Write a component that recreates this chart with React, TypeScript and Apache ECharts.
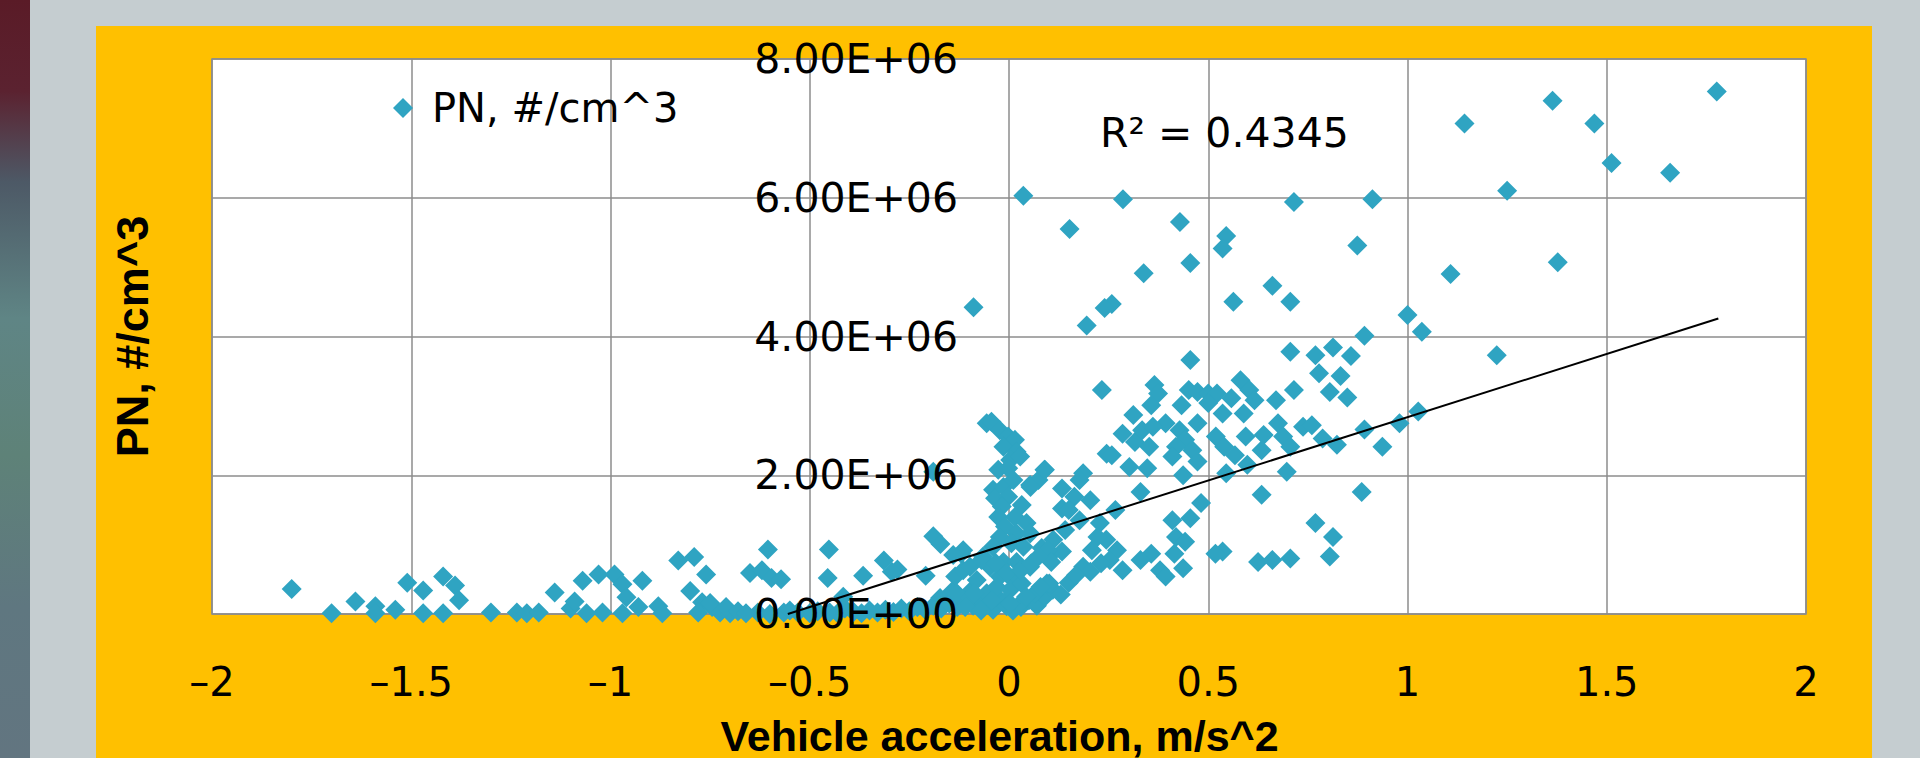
import React, { useEffect, useRef } from "react";
import * as echarts from "echarts";

const SERIES_NAME = "PN, #/cm^3";
const X_TITLE = "Vehicle acceleration, m/s^2";
const Y_TITLE = "PN, #/cm^3";
const R2_LABEL = "R² = 0.4345";

const X_MIN = -2;
const X_MAX = 2;
const X_STEP = 0.5;
const Y_MIN = 0;
const Y_MAX = 8e6;
const Y_STEP = 2e6;

// Trendline end points
const TREND_X = [-0.555, 1.78];
const TREND_Y = [0, 4.26e6];

// Left tail (decelerations)
const ACC_LEFT = [-1.8, -1.7, -1.64, -1.59, -1.59, -1.54, -1.51, -1.47, -1.47, -1.42, -1.39, -1.38, -1.42, -1.3, -1.235, -1.21, -1.18, -1.14, -1.1, -1.09, -1.07, -1.06, -1.03, -1.02, -0.99, -0.97, -0.97, -0.96, -0.93, -0.92, -0.88, -0.87, -0.83, -0.79, -0.8, -0.76, -0.77, -0.78, -0.745, -0.725, -0.7, -0.71, -0.75, -0.65, -0.62, -0.605, -0.596, -0.572, -0.63, -0.565, -0.53, -0.452, -0.455, -0.412, -0.366, -0.314, -0.28, -0.294, -0.19, -0.172, -0.19, -0.209, -0.135, -0.089, -0.12, -0.115, -0.144, -0.098, -0.173, -0.416, -0.056];
const PN_LEFT = [0.36e6, 0.01e6, 0.18e6, 0.11e6, 0.01e6, 0.06e6, 0.45e6, 0.34e6, 0.01e6, 0.54e6, 0.41e6, 0.2e6, 0.01e6, 0.02e6, 0.02e6, 0.01e6, 0.02e6, 0.31e6, 0.08e6, 0.18e6, 0.48e6, 0.01e6, 0.57e6, 0.02e6, 0.57e6, 0.43e6, 0.01e6, 0.24e6, 0.1e6, 0.48e6, 0.11e6, 0.01e6, 0.77e6, 0.82e6, 0.33e6, 0.57e6, 0.17e6, 0.02e6, 0.1e6, 0.02e6, 0.01e6, 0.1e6, 0.16e6, 0.59e6, 0.63e6, 0.93e6, 0.52e6, 0.5e6, 0.02e6, 0.02e6, 0.02e6, 0.93e6, 0.52e6, 0.08e6, 0.55e6, 0.77e6, 0.64e6, 0.61e6, 1.12e6, 1.01e6, 2.05e6, 0.55e6, 0.54e6, 4.42e6, 0.87e6, 0.63e6, 0.32e6, 0.32e6, 0.23e6, 0.25e6, 2.75e6];

// Band of low values near zero acceleration
const ACC_BAND = [-0.68, -0.66, -0.6, -0.55, -0.5, -0.48, -0.45, -0.43, -0.39, -0.37, -0.35, -0.33, -0.31, -0.29, -0.27, -0.25, -0.23, -0.21, -0.19, -0.17, -0.15, -0.13, -0.11, -0.09, -0.07, -0.05, -0.03, -0.01, 0.01, 0.03, 0.05, 0.07, 0.09, 0.11, 0.13, 0.15];
const PN_BAND = [0.04e6, 0.01e6, 0.0, 0.05e6, 0.01e6, 0.04e6, 0.02e6, 0.01e6, 0.03e6, 0.01e6, 0.05e6, 0.02e6, 0.06e6, 0.03e6, 0.08e6, 0.04e6, 0.1e6, 0.06e6, 0.12e6, 0.08e6, 0.15e6, 0.1e6, 0.18e6, 0.12e6, 0.2e6, 0.15e6, 0.25e6, 0.18e6, 0.05e6, 0.1e6, 0.2e6, 0.12e6, 0.25e6, 0.35e6, 0.28e6, 0.45e6];

// Vertical cluster around zero acceleration
const ACC_CENTER = [-0.044, -0.023, -0.002, 0.015, -0.014, 0.019, 0.003, 0.028, -0.027, -0.002, 0.09, 0.053, -0.04, -0.014, 0.011, -0.035, -0.002, 0.032, -0.018, -0.027, 0.015, 0.044, -0.01, 0.019, -0.023, 0.053, 0.006, 0.036, -0.115, -0.04, -0.065, -0.098, -0.14, -0.048, -0.014, 0.019, -0.023, 0.011, -0.081, -0.131, -0.098, -0.056, -0.031, 0.003, 0.032, -0.069, -0.04, -0.006, 0.028, 0.065, 0.095, 0.107, 0.082, 0.053, 0.245, 0.111, 0.074, 0.186, 0.228, -0.069, -0.033, -0.007, 0.029, 0.056, -0.087, -0.043, 0.003, -0.11, -0.07];
const PN_CENTER = [2.77e6, 2.65e6, 2.56e6, 2.51e6, 2.41e6, 2.34e6, 2.22e6, 2.27e6, 2.08e6, 2.1e6, 2.08e6, 1.86e6, 1.79e6, 1.83e6, 1.93e6, 1.67e6, 1.69e6, 1.57e6, 1.55e6, 1.4e6, 1.4e6, 1.31e6, 1.26e6, 1.16e6, 1.11e6, 1.16e6, 1.02e6, 0.97e6, 0.92e6, 0.97e6, 0.83e6, 0.68e6, 0.85e6, 0.68e6, 0.75e6, 0.75e6, 0.54e6, 0.49e6, 0.49e6, 0.3e6, 0.23e6, 0.3e6, 0.39e6, 0.35e6, 0.44e6, 0.08e6, 0.06e6, 0.11e6, 0.15e6, 0.3e6, 0.44e6, 0.87e6, 0.95e6, 0.68e6, 2.31e6, 1.07e6, 1.93e6, 0.68e6, 1.31e6, 0.78e6, 0.73e6, 0.59e6, 0.63e6, 0.73e6, 0.3e6, 0.2e6, 0.15e6, 0.1e6, 0.05e6];

// Accelerations (positive side)
const ACC_RIGHT = [0.036, 0.286, 0.715, 0.912, 1.25, 0.152, 0.429, 0.545, 0.536, 0.874, 0.455, 0.338, 1.108, 0.661, 0.563, 0.706, 0.258, 0.24, 0.195, 1.0, 1.036, 0.892, 1.224, 0.455, 0.706, 0.769, 0.813, 0.858, 0.778, 0.832, 0.805, 0.849, 0.715, 0.67, 0.233, 0.365, 0.374, 0.357, 0.581, 0.603, 0.616, 0.451, 0.473, 0.5, 0.522, 0.558, 0.433, 0.5, 0.536, 0.589, 0.312, 0.393, 0.285, 0.316, 0.334, 0.352, 0.361, 0.258, 0.302, 0.347, 0.428, 0.473, 0.442, 0.419, 0.41, 0.46, 0.473, 0.437, 0.519, 0.54, 0.567, 0.594, 0.639, 0.634, 0.598, 0.545, 0.675, 0.688, 0.706, 0.738, 0.76, 0.787, 0.823, 0.892, 0.937, 0.98, 1.027, 0.697, 0.634, 0.885, 0.769, 0.813, 0.805, 0.706, 0.661, 0.625, 0.536, 0.518, 0.482, 0.455, 0.41, 0.419, 0.442, 0.415, 0.437, 0.379, 0.393, 0.357, 0.33, 0.33, 0.267, 0.285, 0.271, 0.253, 0.244, 0.222, 0.208, 0.231, 0.204, 0.168, 0.186, 0.177, 0.133, 0.164, 0.204, 0.133, 0.15, 0.177, 0.141, 0.089, 0.054, 0.133, 0.097, 0.101, 0.079, 0.043, 0.106, 0.074, 1.143, 1.364, 1.469, 1.776, 1.512, 1.659, 1.377];
const PN_RIGHT = [6.03e6, 5.98e6, 5.94e6, 5.98e6, 6.1e6, 5.55e6, 5.65e6, 5.45e6, 5.27e6, 5.31e6, 5.06e6, 4.91e6, 4.9e6, 4.73e6, 4.5e6, 4.5e6, 4.47e6, 4.41e6, 4.16e6, 4.31e6, 4.07e6, 4.01e6, 3.73e6, 3.66e6, 3.78e6, 3.73e6, 3.84e6, 3.72e6, 3.47e6, 3.43e6, 3.2e6, 3.12e6, 3.23e6, 3.08e6, 3.23e6, 3.3e6, 3.18e6, 3.01e6, 3.37e6, 3.23e6, 3.08e6, 3.23e6, 3.2e6, 3.18e6, 3.18e6, 3.11e6, 3.01e6, 3.04e6, 2.89e6, 2.89e6, 2.87e6, 2.75e6, 2.6e6, 2.48e6, 2.65e6, 2.41e6, 2.7e6, 2.29e6, 2.12e6, 2.1e6, 2.65e6, 2.75e6, 2.51e6, 2.41e6, 2.27e6, 2.36e6, 2.2e6, 2.0e6, 2.56e6, 2.41e6, 2.29e6, 2.56e6, 2.58e6, 2.36e6, 2.15e6, 2.03e6, 2.75e6, 2.56e6, 2.41e6, 2.7e6, 2.72e6, 2.53e6, 2.44e6, 2.66e6, 2.41e6, 2.75e6, 2.92e6, 2.05e6, 1.72e6, 1.76e6, 1.31e6, 1.11e6, 0.83e6, 0.8e6, 0.78e6, 0.75e6, 0.9e6, 0.87e6, 1.6e6, 1.38e6, 1.35e6, 1.11e6, 1.04e6, 0.87e6, 0.66e6, 0.63e6, 0.54e6, 0.87e6, 0.78e6, 1.76e6, 1.5e6, 0.63e6, 0.92e6, 0.78e6, 1.07e6, 1.11e6, 0.92e6, 0.73e6, 0.61e6, 0.56e6, 2.03e6, 1.93e6, 1.81e6, 1.69e6, 1.64e6, 1.52e6, 1.5e6, 1.35e6, 1.21e6, 2.08e6, 1.83e6, 0.9e6, 0.92e6, 0.44e6, 0.39e6, 0.25e6, 0.75e6, 0.83e6, 7.07e6, 7.4e6, 7.07e6, 7.53e6, 6.5e6, 6.36e6, 5.07e6];

const ACC = [...ACC_LEFT, ...ACC_BAND, ...ACC_CENTER, ...ACC_RIGHT];
const PN = [...PN_LEFT, ...PN_BAND, ...PN_CENTER, ...PN_RIGHT];

const REG_FONT = "'DejaVu Sans', sans-serif";
const BOLD_FONT = "'Liberation Sans', Arial, sans-serif";
const GRID_COLOR = "#8c8c8c";
const MARKER_COLOR = "#2fa4c2";

const GRID_LEFT = 212;
const GRID_RIGHT = 114;
const CHART_W = 1920;

function sci(v: number): string {
  if (v === 0) return "0.00E+00";
  const e = Math.floor(Math.log10(Math.abs(v)) + 1e-9);
  const m = v / Math.pow(10, e);
  const sign = e < 0 ? "-" : "+";
  return `${m.toFixed(2)}E${sign}${String(Math.abs(e)).padStart(2, "0")}`;
}

export default function App() {
  const ref = useRef<HTMLDivElement>(null);
  useEffect(() => {
    if (!ref.current) return;
    const chart = echarts.init(ref.current, undefined, { renderer: "svg" });
    const points = ACC.map((x, i) => [x, PN[i]]);
    const trend = TREND_X.map((x, i) => [x, TREND_Y[i]]);
    // value-axis placed where x = 0 (Excel "axis crosses at 0")
    const plotW = CHART_W - GRID_LEFT - GRID_RIGHT;
    const zeroOffset = -((0 - X_MIN) / (X_MAX - X_MIN)) * plotW;
    chart.setOption({
      animation: false,
      backgroundColor: "transparent",
      grid: {
        left: GRID_LEFT,
        top: 59,
        right: GRID_RIGHT,
        bottom: 144,
        show: true,
        backgroundColor: "#ffffff",
        borderColor: GRID_COLOR,
        borderWidth: 1.5,
        containLabel: false,
        outerBoundsMode: "none",
      },
      legend: {
        show: true,
        data: [SERIES_NAME],
        left: 393,
        top: 88,
        padding: 0,
        icon: "diamond",
        itemWidth: 20,
        itemHeight: 20,
        itemGap: 0,
        textStyle: { fontFamily: REG_FONT, fontSize: 40, color: "#000", padding: [0, 0, 27, 14] },
      },
      xAxis: {
        type: "value",
        min: X_MIN,
        max: X_MAX,
        interval: X_STEP,
        axisLine: { show: false },
        axisTick: { show: false },
        splitLine: { show: true, lineStyle: { color: GRID_COLOR, width: 1.5 } },
        axisLabel: {
          fontFamily: REG_FONT,
          fontSize: 40,
          color: "#000",
          margin: 48,
          formatter: (v: number) => String(v).replace("-", "\u2013"),
        },
        name: X_TITLE,
        nameLocation: "middle",
        nameGap: 100,
        nameTextStyle: { fontFamily: BOLD_FONT, fontWeight: "bold", fontSize: 43, color: "#000", padding: [0, 19, 0, 0] },
      },
      yAxis: [
        {
          type: "value",
          min: Y_MIN,
          max: Y_MAX,
          interval: Y_STEP,
          position: "left",
          z: 0,
          axisLine: { show: false, onZero: false },
          axisTick: { show: false },
          axisLabel: { show: false },
          splitLine: { show: true, lineStyle: { color: GRID_COLOR, width: 1.5 } },
          name: Y_TITLE,
          nameLocation: "middle",
          nameGap: 57,
          nameTextStyle: { fontFamily: BOLD_FONT, fontWeight: "bold", fontSize: 45, color: "#000" },
        },
        {
          type: "value",
          min: Y_MIN,
          max: Y_MAX,
          interval: Y_STEP,
          position: "left",
          offset: zeroOffset,
          z: 5,
          axisLine: { show: false, onZero: false },
          axisTick: { show: false },
          splitLine: { show: false },
          axisLabel: {
            fontFamily: REG_FONT,
            fontSize: 41,
            color: "#000",
            margin: 51,
            padding: [0, 0, 33, 0],
            formatter: (v: number) => sci(v),
          },
        },
      ],
      series: [
        {
          name: SERIES_NAME,
          type: "scatter",
          yAxisIndex: 0,
          data: points,
          symbol: "diamond",
          symbolSize: 20,
          itemStyle: { color: MARKER_COLOR, opacity: 1 },
          z: 2,
        },
        {
          name: "trend",
          type: "line",
          yAxisIndex: 0,
          data: trend,
          symbol: "none",
          silent: true,
          lineStyle: { color: "#000", width: 2 },
          z: 3,
        },
      ],
      graphic: [
        {
          type: "text",
          left: 1100,
          top: 112,
          z: 10,
          style: { text: R2_LABEL, fontFamily: REG_FONT, fontSize: 41, fill: "#000" },
        },
      ],
    });
    return () => chart.dispose();
  }, []);

  return (
    <div style={{ position: "absolute", left: 0, top: 0, width: 1920, height: 758, overflow: "hidden", background: "#c5cdd0" }}>
      <div
        style={{
          position: "absolute",
          left: 0,
          top: 0,
          width: 30,
          height: 758,
          background:
            "linear-gradient(180deg, #5a1b27 0%, #5b2230 12%, #4d5966 24%, #5f8585 42%, #5e8278 60%, #5f7780 80%, #627580 100%)",
        }}
      />
      <div style={{ position: "absolute", left: 96, top: 26, width: 1776, height: 732, background: "#ffc000" }} />
      <div ref={ref} style={{ position: "absolute", left: 0, top: 0, width: 1920, height: 758 }} />
    </div>
  );
}
